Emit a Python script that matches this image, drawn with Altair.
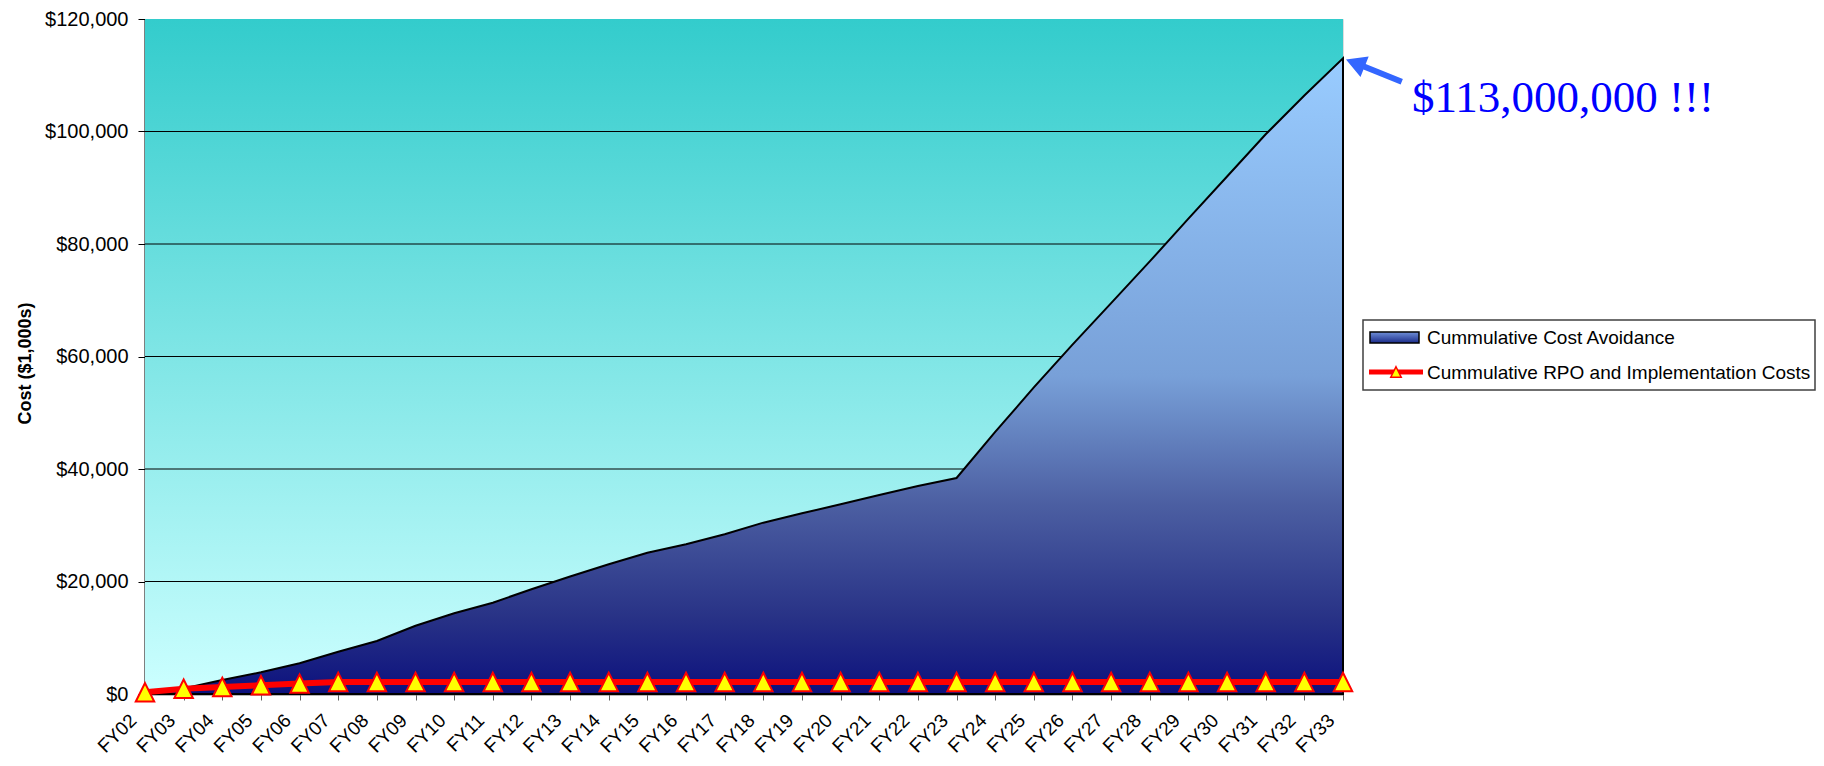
import altair as alt
import pandas as pd

# ---------------- data ----------------
years = ["FY02", "FY03", "FY04", "FY05", "FY06", "FY07", "FY08", "FY09", "FY10",
         "FY11", "FY12", "FY13", "FY14", "FY15", "FY16", "FY17", "FY18", "FY19",
         "FY20", "FY21", "FY22", "FY23", "FY24", "FY25", "FY26", "FY27", "FY28",
         "FY29", "FY30", "FY31", "FY32", "FY33"]

cost_avoidance = [300, 1000, 2490, 3850, 5460, 7520, 9420, 12140, 14350, 16230,
                  18620, 20900, 23060, 25120, 26610, 28390, 30460, 32120, 33720,
                  35380, 36980, 38400, 46600, 54500, 62100, 69500, 76900, 84500,
                  92000, 99500, 106400, 113000]

rpo_costs = [300, 950, 1250, 1550, 1850, 2150, 2150, 2150, 2150, 2150, 2150,
             2150, 2150, 2150, 2150, 2150, 2150, 2150, 2150, 2150, 2150, 2150,
             2150, 2150, 2150, 2150, 2150, 2150, 2150, 2150, 2150, 2150]

y_ticks = [0, 20000, 40000, 60000, 80000, 100000, 120000]
series_names = ["Cummulative Cost Avoidance",
                "Cummulative RPO and Implementation Costs"]
annotation_text = "$113,000,000 !!!"
y_title = "Cost ($1,000s)"

df = pd.DataFrame({"year": years, "avoid": cost_avoidance, "rpo": rpo_costs})
grid_df = pd.DataFrame({"tick": y_ticks[1:-1]})
peak_df = pd.DataFrame({"year": [years[-1]], "avoid": [cost_avoidance[-1]],
                        "label": [annotation_text]})
one = pd.DataFrame({"a": [0]})

# ---------------- styles ----------------
W, H = 1198, 675
FONT = "Liberation Sans"

bg_grad = alt.LinearGradient(gradient="linear", x1=0, x2=0, y1=0, y2=1,
                             stops=[alt.GradientStop(color="#33CCCC", offset=0),
                                    alt.GradientStop(color="#CCFFFF", offset=1)])
area_grad = alt.LinearGradient(gradient="linear", x1=0, x2=0, y1=0, y2=1,
                               stops=[alt.GradientStop(color="#99CCFF", offset=0),
                                      alt.GradientStop(color="#78A0D8", offset=0.5),
                                      alt.GradientStop(color="#4C5FA2", offset=0.7),
                                      alt.GradientStop(color="#283286", offset=0.88),
                                      alt.GradientStop(color="#0C117E", offset=1)])
legend_grad = alt.LinearGradient(gradient="linear", x1=0, x2=0, y1=0, y2=1,
                                 stops=[alt.GradientStop(color="#6F8FD8", offset=0),
                                        alt.GradientStop(color="#1A2A88", offset=1)])

TRI = "M0,-1L1,1L-1,1Z"
ARROW = "M0.3,0.1L2.567,-0.178L2.27,0.565L5.986,2.053L5.762,2.611L2.046,1.123L1.749,1.866Z"

yscale = alt.Scale(domain=[0, 120000], nice=False, zero=True)
y_axis = alt.Axis(values=y_ticks, format="$,.0f", grid=False, title=y_title,
                  labelFont=FONT, labelFontSize=20, labelColor="black",
                  labelPadding=10, tickSize=7, tickColor="black",
                  domainColor="black", domainWidth=2,
                  titleFont=FONT, titleFontSize=18, titleFontWeight="bold",
                  titleColor="black", titleAngle=270, titleX=-120, titleY=344,
                  titleAlign="center", titleBaseline="middle")
x_enc = alt.X("year:O", sort=years, scale=alt.Scale(type="point", padding=0),
              axis=alt.Axis(title=None, labelAngle=315, labelAlign="right",
                            labelBaseline="middle", labelFont=FONT,
                            labelFontSize=19, labelColor="black",
                            labelPadding=17, labelOffset=-12, tickSize=6,
                            tickColor="#606060", domainColor="#707070",
                            domainWidth=2, grid=False))

# ---------------- layers ----------------
bg = alt.Chart(one).mark_rect(fill=bg_grad).encode(
    x=alt.value(0), x2=alt.value(W), y=alt.value(0), y2=alt.value(H))

grid = alt.Chart(grid_df).mark_rule(color="black", strokeWidth=1).encode(
    y=alt.Y("tick:Q", scale=yscale, axis=y_axis))

area = alt.Chart(df).mark_area(fill=area_grad, stroke="black", strokeWidth=2,
                               fillOpacity=1).encode(
    x=x_enc, y=alt.Y("avoid:Q", scale=yscale, axis=y_axis))

rline = alt.Chart(df).mark_line(color="#FF0000", strokeWidth=6).encode(
    x=x_enc, y=alt.Y("rpo:Q", scale=yscale, axis=y_axis))

tris = alt.Chart(df).mark_point(shape=TRI, filled=True, fill="#FFFF00",
                                stroke="#FF0000", strokeWidth=2, size=340,
                                opacity=1).encode(
    x=x_enc, y=alt.Y("rpo:Q", scale=yscale, axis=y_axis))

arrow = alt.Chart(peak_df).mark_point(shape=ARROW, filled=True, fill="#3366FF",
                                      strokeWidth=0, size=400, opacity=1).encode(
    x=x_enc, y=alt.Y("avoid:Q", scale=yscale, axis=y_axis))

ann = alt.Chart(peak_df).mark_text(font="Liberation Serif", fontSize=45,
                                   color="#0000FF", align="left",
                                   baseline="alphabetic", dx=69, dy=54).encode(
    x=x_enc, y=alt.Y("avoid:Q", scale=yscale, axis=y_axis), text="label:N")

# legend (drawn by hand to mimic the original look)
leg_box = alt.Chart(one).mark_rect(fill="white", stroke="#404040",
                                   strokeWidth=1.5).encode(
    x=alt.value(1218), x2=alt.value(1670), y=alt.value(301), y2=alt.value(371))
leg_sym1 = alt.Chart(one).mark_rect(fill=legend_grad, stroke="black",
                                    strokeWidth=1.5).encode(
    x=alt.value(1225), x2=alt.value(1274), y=alt.value(313), y2=alt.value(324))
leg_line2 = alt.Chart(one).mark_rule(color="#FF0000", strokeWidth=5).encode(
    x=alt.value(1224), x2=alt.value(1278), y=alt.value(353))
leg_tri2 = alt.Chart(one).mark_point(shape=TRI, filled=True, fill="#FFFF00",
                                     stroke="#FF0000", strokeWidth=1.5, size=110,
                                     opacity=1).encode(
    x=alt.value(1251), y=alt.value(353))
leg_txt1 = alt.Chart(one).mark_text(text=series_names[0], font=FONT, fontSize=19,
                                    color="black", align="left",
                                    baseline="middle").encode(
    x=alt.value(1282), y=alt.value(319))
leg_txt2 = alt.Chart(one).mark_text(text=series_names[1], font=FONT, fontSize=19,
                                    color="black", align="left",
                                    baseline="middle").encode(
    x=alt.value(1282), y=alt.value(354))

chart = alt.layer(bg, grid, area, rline, tris, arrow, ann,
                  leg_box, leg_sym1, leg_line2, leg_tri2, leg_txt1, leg_txt2
                  ).properties(
    width=W, height=H,
    autosize=alt.AutoSizeParams(type="none"),
    padding={"left": 137, "top": 11, "right": 473, "bottom": 64},
).configure_view(stroke="#808080", strokeWidth=2).configure(background="white")

chart.save("out.html", embed_options={"renderer": "svg", "actions": False})
